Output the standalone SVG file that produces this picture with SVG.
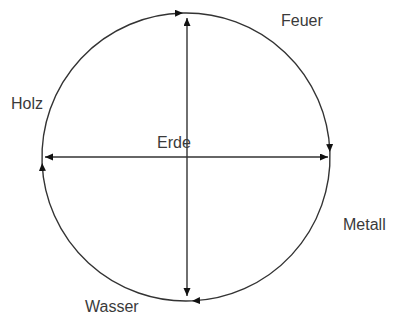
<svg xmlns="http://www.w3.org/2000/svg" width="395" height="320" viewBox="0 0 395 320">
<style>
.lbl{font-family:"Liberation Sans",Arial,sans-serif;font-size:16px;fill:#3a3a3a}
.ln{fill:none;stroke:#333;stroke-width:1.4}
</style>
<defs>
<marker id="ah" markerWidth="9" markerHeight="8" refX="8" refY="3.5" orient="auto-start-reverse" markerUnits="userSpaceOnUse">
<path d="M0,0 L8,3.5 L0,7 z" fill="#111"/>
</marker>
</defs>
<rect width="395" height="320" fill="#fff"/>
<g id="connectors">
<path class="ln" d="M42.1,163 A144,144 0 0 1 183,13.03" marker-end="url(#ah)"/>
<path class="ln" d="M183,13.03 A144,144 0 0 1 329.9,152" marker-end="url(#ah)"/>
<path class="ln" d="M329.9,152 A144,144 0 0 1 192,300.9" marker-end="url(#ah)"/>
<path class="ln" d="M192,300.9 A144,144 0 0 1 42.1,163" marker-end="url(#ah)"/>
<line class="ln" x1="45" y1="157" x2="328" y2="157" marker-start="url(#ah)" marker-end="url(#ah)"/>
<line class="ln" x1="187" y1="18" x2="187" y2="296" marker-start="url(#ah)" marker-end="url(#ah)"/>
</g>
<g id="feuer"><text class="lbl" x="281" y="26">Feuer</text></g>
<g id="holz"><text class="lbl" x="11" y="109">Holz</text></g>
<g id="erde"><text class="lbl" x="157" y="148">Erde</text></g>
<g id="metall"><text class="lbl" x="343" y="230">Metall</text></g>
<g id="wasser"><text class="lbl" x="85" y="312">Wasser</text></g>
</svg>
